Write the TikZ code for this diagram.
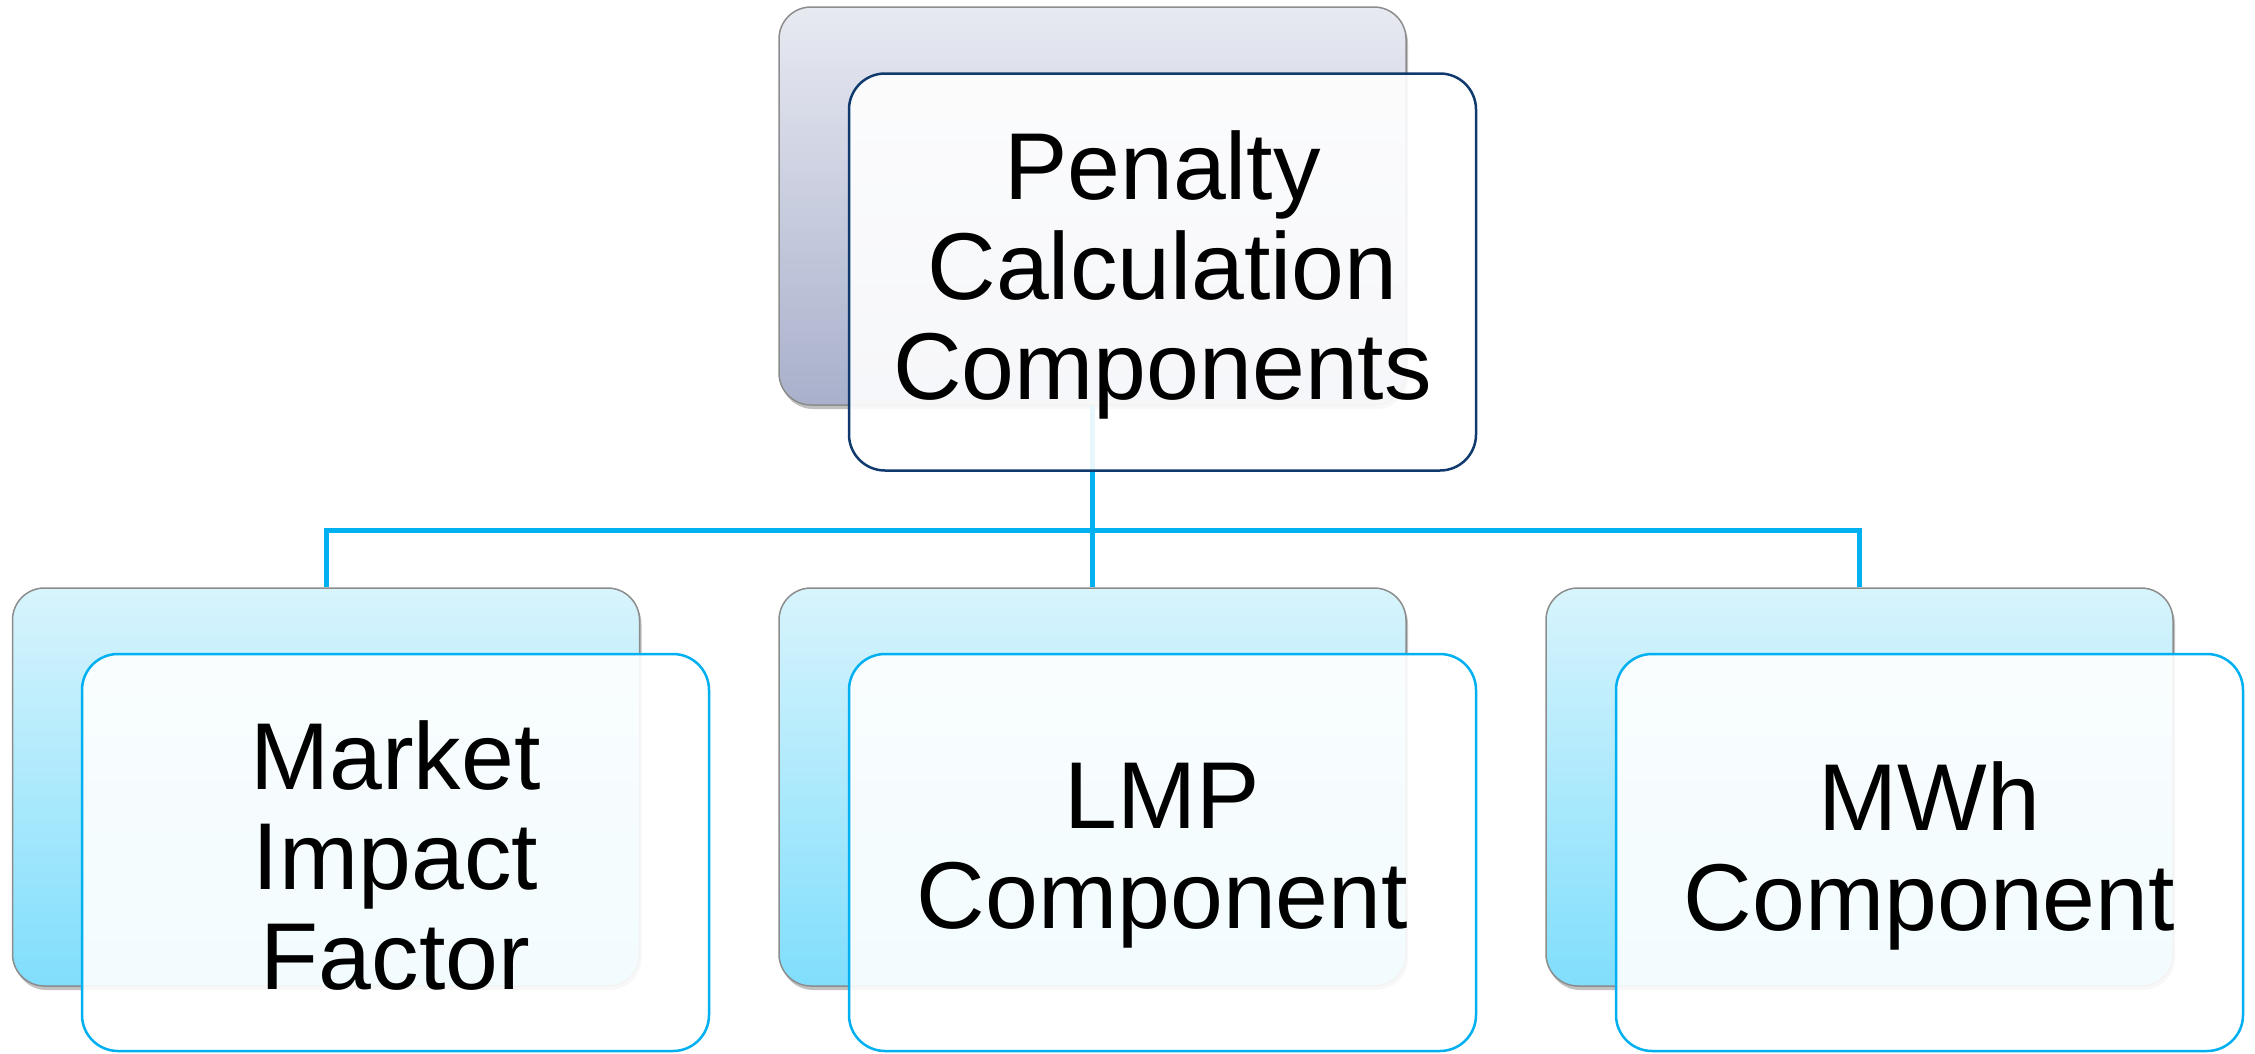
\documentclass[tikz,border=0pt]{standalone}
\usepackage{fontspec}
\setmainfont{Liberation Sans}
\usetikzlibrary{shadows}
\definecolor{cyanline}{RGB}{0,176,240}
\definecolor{navyline}{RGB}{16,58,110}
\definecolor{topA}{RGB}{232,234,242}
\definecolor{topB}{RGB}{168,176,203}
\definecolor{botA}{RGB}{216,244,252}
\definecolor{botB}{RGB}{128,222,252}
\begin{document}
\begin{tikzpicture}[x=1pt,y=-1pt,
  backbox/.style={rectangle, rounded corners=32pt, minimum width=627pt, minimum height=398pt,
    draw=black!45, line width=1.5pt,
    drop shadow={shadow xshift=2pt, shadow yshift=-4pt, opacity=0.35, fill=black!70}},
  backtop/.style={backbox, top color=topA, bottom color=topB},
  backbot/.style={backbox, top color=botA, bottom color=botB},
  frontbox/.style={rectangle, rounded corners=36pt, minimum width=627pt, minimum height=397pt,
    fill=white, fill opacity=0.9, line width=2.5pt},
  fronttop/.style={frontbox, draw=navyline},
  frontbot/.style={frontbox, draw=cyanline},
  lbl/.style={align=center, font=\fontsize{95}{100}\selectfont, text=black, inner sep=0pt, yshift=-3pt},
  conn/.style={draw=cyanline, line width=5pt}]
\useasboundingbox (0,0) rectangle (2255,1053);
\coordinate (hy) at (0,530);
% back boxes
\node[backtop] (bt) at (1092.5,206) {};
\node[backbot] (b1) at (326,787) {};
\node[backbot] (b2) at (1092.5,787) {};
\node[backbot] (b3) at (1859.5,787) {};
% connectors
\draw[conn] (bt.south) -- (bt.south |- hy);
\draw[conn] (b1.north) -- (b1.north |- hy) -- (b3.north |- hy) -- (b3.north);
\draw[conn] (b2.north) -- (b2.north |- hy);
% front boxes
\node[fronttop] (ft) at (1162.5,272) {};
\node[frontbot] (f1) at (395.5,852.5) {};
\node[frontbot] (f2) at (1162.5,852.5) {};
\node[frontbot] (f3) at (1929.5,852.5) {};
% texts
\node[lbl] (t0) at (ft.center) {Penalty\\Calculation\\Components};
\node[lbl] (t1) at (f1.center) {Market\\Impact\\Factor};
\node[lbl] (t2) at (f2.center) {LMP\\Component};
\node[lbl] (t3) at (f3.center) {MWh\\Component};
\end{tikzpicture}
\end{document}
